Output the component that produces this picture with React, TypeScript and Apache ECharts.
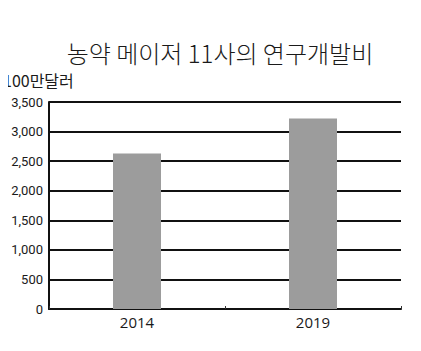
import React, { useEffect, useRef } from "react";
import * as echarts from "echarts";

const title = "농약 메이저 11사의 연구개발비";
const unit = "100만달러";
const categories = ["2014", "2019"];
const values = [2630, 3220];

export default function App() {
  const ref = useRef<HTMLDivElement>(null);
  useEffect(() => {
    const chart = echarts.init(ref.current!, null, { renderer: "svg" });
    chart.setOption({
      animation: false,
      backgroundColor: "#ffffff",
      title: {
        text: title,
        left: 215,
        top: 35,
        textAlign: "center",
        textStyle: {
          fontFamily: "Noto Sans CJK KR",
          fontSize: 24,
          fontWeight: 300,
          color: "#1a1a1a",
        },
      },
      graphic: [
        {
          type: "text",
          left: 3,
          top: 72,
          style: {
            text: unit,
            fontFamily: "Noto Sans CJK KR",
            fontSize: 16,
            fill: "#1a1a1a",
          },
        },
      ],
      grid: { left: 49, right: 20, top: 102, bottom: 42, containLabel: false },
      xAxis: {
        type: "category",
        data: categories,
        axisLine: { lineStyle: { color: "#111", width: 2 } },
        axisTick: { show: true, inside: true, length: 3, lineStyle: { color: "#333" } },
        axisLabel: {
          color: "#1a1a1a",
          fontFamily: "Open Sans",
          fontSize: 15,
          margin: 5,
        },
      },
      yAxis: {
        type: "value",
        min: 0,
        max: 3500,
        interval: 500,
        axisLine: { show: true, lineStyle: { color: "#111", width: 2 } },
        axisTick: { show: false },
        splitLine: { lineStyle: { color: "#111", width: 2 } },
        axisLabel: {
          color: "#1a1a1a",
          fontFamily: "Roboto",
          fontSize: 13,
          margin: 6,
          formatter: (v: number) => v.toLocaleString("en-US"),
        },
      },
      series: [
        {
          type: "bar",
          data: values,
          barWidth: 48,
          itemStyle: { color: "#9c9c9c" },
          z: 3,
        },
      ],
    });
    return () => chart.dispose();
  }, []);
  return <div ref={ref} style={{ width: 421, height: 351, margin: -8 }} />;
}
